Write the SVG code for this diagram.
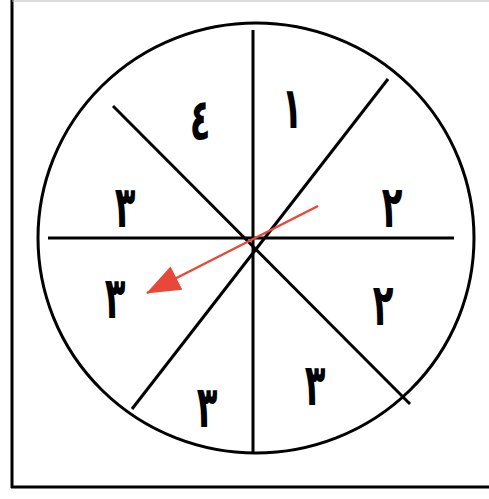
<svg xmlns="http://www.w3.org/2000/svg" width="489" height="499" viewBox="0 0 489 499">
<style>
.ln{stroke:#000;stroke-width:3;fill:none;stroke-linecap:butt}
.d{font-family:"DejaVu Sans",sans-serif;font-weight:bold;font-size:40px;fill:#000;text-anchor:middle}
</style>
<defs>
<marker id="ah" viewBox="0 0 34 26" refX="33" refY="13" markerWidth="34" markerHeight="26" markerUnits="userSpaceOnUse" orient="auto">
<path d="M0,0 L34,13 L0,26 Z" fill="#e8473a"/>
</marker>
</defs>
<rect width="489" height="499" fill="#fff"/>
<g id="frame">
<line class="ln" x1="12" y1="0" x2="12" y2="488"/>
<line class="ln" x1="11" y1="487" x2="489" y2="487"/>
<line x1="12" y1="1" x2="489" y2="1" stroke="#bbb" stroke-width="1"/>
</g>
<g id="wheel">
<ellipse class="ln" cx="256" cy="238" rx="218" ry="215"/>
</g>
<g id="connectors">
<line class="ln" x1="253" y1="30" x2="253" y2="453"/>
<line class="ln" x1="48" y1="238" x2="454" y2="238"/>
<line class="ln" x1="388" y1="79" x2="132" y2="409"/>
<line class="ln" x1="113" y1="106" x2="410" y2="404"/>
<line x1="318" y1="206" x2="147" y2="293" stroke="#e8473a" stroke-width="2.5" marker-end="url(#ah)"/>
</g>
<g id="labels">
<text class="d" transform="translate(200,140) scale(0.85,1.45)">٤</text>
<text class="d" transform="translate(292,128) scale(0.85,1.45)">١</text>
<text class="d" transform="translate(392,227) scale(0.85,1.45)">٢</text>
<text class="d" transform="translate(125,227) scale(0.85,1.45)">٣</text>
<text class="d" transform="translate(115,318) scale(0.85,1.45)">٣</text>
<text class="d" transform="translate(383,325) scale(0.85,1.45)">٢</text>
<text class="d" transform="translate(315,405) scale(0.85,1.45)">٣</text>
<text class="d" transform="translate(207,427) scale(0.85,1.45)">٣</text>
</g>
</svg>
